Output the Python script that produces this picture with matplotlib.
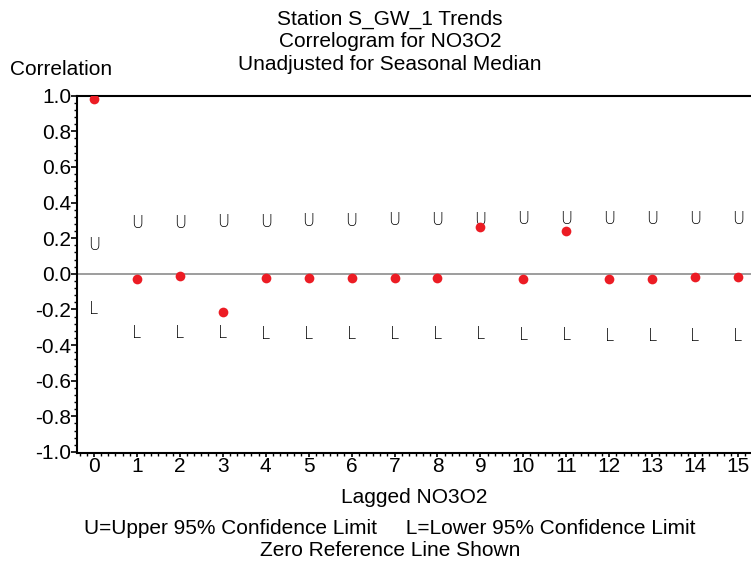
import numpy as np
import matplotlib
matplotlib.use("Agg")
import matplotlib.pyplot as plt
from matplotlib.ticker import AutoMinorLocator

plt.rcParams["font.family"] = ["Liberation Sans", "DejaVu Sans"]

# correlogram values
lags = list(range(16))
corr = [0.98, -0.028, -0.013, -0.217, -0.022, -0.022, -0.022, -0.022,
        -0.022, 0.26, -0.028, 0.243, -0.028, -0.028, -0.02, -0.02]
upper = [0.16, 0.285, 0.285, 0.29, 0.29, 0.295, 0.295, 0.30,
         0.30, 0.30, 0.305, 0.305, 0.31, 0.31, 0.31, 0.31]
lower = [-0.195, -0.335, -0.335, -0.335, -0.34, -0.34, -0.34, -0.34,
         -0.34, -0.34, -0.345, -0.345, -0.35, -0.35, -0.35, -0.35]
yticks = [1.0, 0.8, 0.6, 0.4, 0.2, 0.0, -0.2, -0.4, -0.6, -0.8, -1.0]

fig = plt.figure(figsize=(7.51, 5.61), dpi=100)
ax = fig.add_axes([0.1025, 0.1925, 0.8975, 0.637])

ax.axhline(0, color="#8c8c8c", linewidth=1.2, zorder=1)

# U / L confidence-limit letters
letter_font = ["Liberation Sans Narrow", "DejaVu Sans"]
for x, u, l in zip(lags, upper, lower):
    ax.text(x, u, "U", ha="center", va="center", fontsize=12, family=letter_font,
            fontweight="light", color="black", zorder=2)
    ax.text(x, l, "L", ha="center", va="center", fontsize=12, family=letter_font,
            fontweight="light", color="black", zorder=2)

ax.plot(lags, corr, "o", color="#ec1c24", markersize=7, markeredgewidth=0, zorder=3)

ax.set_xlim(-0.396, 15.303)
ax.set_ylim(-1.006, 1.0)
ax.set_xticks(lags)
ax.set_yticks(yticks)
ax.set_yticklabels([f"{v:.1f}" for v in yticks])
ax.xaxis.set_minor_locator(AutoMinorLocator(6))
ax.yaxis.set_minor_locator(AutoMinorLocator(5))
ax.tick_params(axis="both", which="major", labelsize=15, width=1.2, direction="out")
ax.tick_params(axis="x", which="major", length=3, pad=0)
ax.tick_params(axis="y", which="major", length=4, pad=0)
ax.tick_params(axis="both", which="minor", length=2, width=1)

ax.spines["right"].set_visible(False)
for s in ("left", "bottom", "top"):
    ax.spines[s].set_linewidth(1.5)

# titles and labels
fig.text(0.519, 1 - 24.5 / 561, "Station S_GW_1 Trends", ha="center", va="baseline", fontsize=15)
fig.text(0.519, 1 - 47 / 561, "Correlogram for NO3O2", ha="center", va="baseline", fontsize=15)
fig.text(0.519, 1 - 70 / 561, "Unadjusted for Seasonal Median", ha="center", va="baseline", fontsize=15)
fig.text(0.013, 1 - 75 / 561, "Correlation", ha="left", va="baseline", fontsize=15)
fig.text(0.552, 1 - 503 / 561, "Lagged NO3O2", ha="center", va="baseline", fontsize=15)
fig.text(0.519, 1 - 534 / 561, "U=Upper 95% Confidence Limit     L=Lower 95% Confidence Limit",
         ha="center", va="baseline", fontsize=15)
fig.text(0.519, 1 - 556 / 561, "Zero Reference Line Shown", ha="center", va="baseline", fontsize=15)

fig.savefig("out.png", dpi=100)
